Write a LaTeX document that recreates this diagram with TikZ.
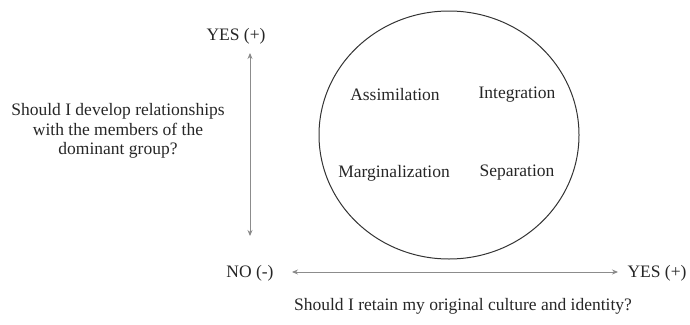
\documentclass[tikz,border=0pt]{standalone}
\usepackage{fontspec}
\setmainfont{Liberation Serif}
\usetikzlibrary{arrows.meta,shapes.geometric}
\begin{document}
\begin{tikzpicture}[x=1pt,y=-1pt,
  lbl/.style={font=\fontsize{17.5}{19.5}\selectfont, text=black!85, inner sep=0pt},
  axis/.style={draw=black!45, line width=0.8pt, {Stealth[length=6pt,width=5pt,fill=black!80]}-{Stealth[length=6pt,width=5pt,fill=black!80]}}]
\useasboundingbox (0,0) rectangle (690,324);
\node[draw=black!80, line width=1pt, ellipse, minimum width=260pt, minimum height=248pt, inner sep=0pt] (circ) at (449,135) {};
\node[lbl] (assim) at (395,95) {Assimilation};
\node[lbl] (integ) at (517,95) {Integration};
\node[lbl] (marg) at (394,173) {Marginalization};
\node[lbl] (sep) at (517,173) {Separation};
\node[lbl] (yestop) at (236,36) {YES (+)};
\node[lbl, align=center] (q1) at (118,131) {Should I develop relationships\\with the members of the\\dominant group?};
\node[lbl] (no) at (250,273) {NO (-)};
\node[lbl] (yesright) at (657,273) {YES (+)};
\node[lbl] (q2) at (463,306) {Should I retain my original culture and identity?};
\coordinate (vt) at (250,53);
\coordinate (vb) at (250,236);
\coordinate (hl) at (292,272);
\coordinate (hr) at (618,272);
\draw[axis] (vt) -- (vb);
\draw[axis] (hl) -- (hr);
\end{tikzpicture}
\end{document}
